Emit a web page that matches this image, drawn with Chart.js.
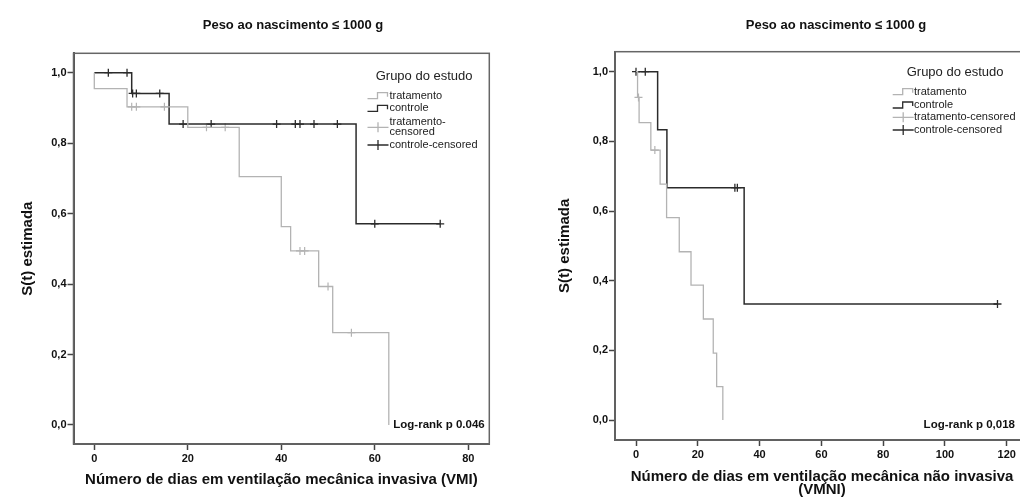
<!DOCTYPE html>
<html>
<head>
<meta charset="utf-8">
<script src="https://cdn.jsdelivr.net/npm/chart.js@4.4.1/dist/chart.umd.min.js"></script>
<style>
  html, body { margin: 0; padding: 0; background: #fff; overflow: hidden; width: 1020px; height: 497px; }
  #vmi { position: absolute; left: 0; top: 0; }
  #vmni { position: absolute; left: 540px; top: 0; }
</style>
</head>
<body>
<canvas id="vmi" width="586" height="497"></canvas>
<canvas id="vmni" width="592" height="497"></canvas>
<script>
'use strict';

var titulo = 'Peso ao nascimento \u2264 1000 g';
var tituloY = 'S(t) estimada';
var tituloVMI = 'Número de dias em ventilação mecânica invasiva (VMI)';
var tituloVMNI = ['Número de dias em ventilação mecânica não invasiva', '(VMNI)'];
var legendaTitulo = 'Grupo do estudo';
var legendaTextos = ['tratamento', 'controle', 'tratamento-censored', 'controle-censored'];
var logRankVMI = 'Log-rank p 0.046';
var logRankVMNI = 'Log-rank p 0,018';

var yTicks = [0, 0.2, 0.4, 0.6, 0.8, 1.0];
var vmiTicks = [0, 20, 40, 60, 80];
var vmniTicks = [0, 20, 40, 60, 80, 100, 120];

// VMI - curvas de Kaplan-Meier (dias, S(t))
var vmiTratDias = [0, 0, 7, 20, 31, 40, 42, 48, 51, 63];
var vmiTratS    = [1, 0.955, 0.903, 0.845, 0.705, 0.563, 0.494, 0.393, 0.262, 0];
var vmiTratCensDias = [8, 9, 15, 24, 28, 44, 45, 50, 55];
var vmiTratCensS    = [0.903, 0.903, 0.903, 0.845, 0.845, 0.494, 0.494, 0.393, 0.262];
var vmiContDias = [0, 8, 16, 56, 74];
var vmiContS    = [1, 0.941, 0.854, 0.571, 0.571];
var vmiContCensDias = [3, 7, 8.2, 9, 14, 19, 25, 39, 43, 44, 47, 52, 60, 74];
var vmiContCensS    = [1, 1, 0.941, 0.941, 0.941, 0.854, 0.854, 0.854, 0.854, 0.854, 0.854, 0.854, 0.571, 0.571];

// VMNI
var vmniTratDias = [0, 0.5, 1, 4.8, 7.8, 9.9, 14, 17.8, 21.8, 25, 26.1, 28.1];
var vmniTratS    = [1, 0.926, 0.854, 0.775, 0.677, 0.581, 0.483, 0.387, 0.290, 0.192, 0.096, 0];
var vmniTratCensDias = [0.8, 6.1];
var vmniTratCensS    = [0.926, 0.775];
var vmniContDias = [0, 7, 10, 35, 117];
var vmniContS    = [1, 0.833, 0.667, 0.333, 0.333];
var vmniContCensDias = [0, 3, 32, 32.8, 117];
var vmniContCensS    = [1, 1, 0.667, 0.667, 0.333];

var corTrat = '#b3b3b3';
var corCont = '#2b2b2b';
var fonte = '"Liberation Sans", Arial, sans-serif';

function pontos(xs, ys) {
  return xs.map(function (x, i) { return { x: x, y: ys[i] }; });
}

function datasets(tD, tS, tcD, tcS, cD, cS, ccD, ccS) {
  return [
    { label: legendaTextos[0], data: pontos(tD, tS), stepped: true, borderColor: corTrat, borderWidth: 1.3, pointRadius: 0, fill: false },
    { label: legendaTextos[1], data: pontos(cD, cS), stepped: true, borderColor: corCont, borderWidth: 1.5, pointRadius: 0, fill: false },
    { label: legendaTextos[2], data: pontos(tcD, tcS), showLine: false, pointStyle: 'cross', pointRadius: 4, borderColor: corTrat, borderWidth: 1.2 },
    { label: legendaTextos[3], data: pontos(ccD, ccS), showLine: false, pointStyle: 'cross', pointRadius: 4, borderColor: corCont, borderWidth: 1.3 }
  ];
}

// moldura, legenda SPSS e texto do log-rank
var legendaKM = {
  id: 'legendaKM',
  beforeDatasetsDraw: function (chart) {
    var a = chart.chartArea, ctx = chart.ctx;
    ctx.save();
    ctx.strokeStyle = '#666';
    ctx.lineWidth = 1.5;
    ctx.strokeRect(a.left, a.top, a.right - a.left, a.bottom - a.top);
    ctx.restore();
  },
  afterDraw: function (chart, args, o) {
    var ctx = chart.ctx;
    ctx.save();
    ctx.textBaseline = 'middle';
    ctx.textAlign = 'left';
    ctx.fillStyle = '#222';
    ctx.font = '13px ' + fonte;
    ctx.fillText(legendaTitulo, o.tituloX, o.tituloY);
    ctx.font = '11px ' + fonte;
    legendaTextos.forEach(function (txt, i) {
      var y = o.linhas[i], x0 = o.simboloX;
      ctx.strokeStyle = i % 2 === 0 ? corTrat : corCont;
      ctx.lineWidth = 1.3;
      ctx.beginPath();
      if (i >= 2) {
        ctx.moveTo(x0, y); ctx.lineTo(x0 + 21, y);
        ctx.moveTo(x0 + 10.5, y - 5); ctx.lineTo(x0 + 10.5, y + 5);
      } else {
        ctx.moveTo(x0, y + 3); ctx.lineTo(x0 + 10, y + 3); ctx.lineTo(x0 + 10, y - 3);
        ctx.lineTo(x0 + 20, y - 3); ctx.lineTo(x0 + 20, y + 1);
      }
      ctx.stroke();
      if (o.quebrar && i === 2) {
        ctx.fillText('tratamento-', o.textoX, y - 5);
        ctx.fillText('censored', o.textoX, y + 5);
      } else {
        ctx.fillText(txt, o.textoX, y);
      }
    });
    ctx.font = 'bold 11.5px ' + fonte;
    ctx.fillStyle = '#111';
    ctx.textAlign = o.logAlign;
    ctx.fillText(o.logRank, o.logX, o.logY);
    ctx.restore();
  }
};

function eixoX(ticks, min, max, altura, texto, lh, pb) {
  return {
    type: 'linear', min: min, max: max,
    afterBuildTicks: function (s) { s.ticks = ticks.map(function (v) { return { value: v }; }); },
    afterFit: function (s) { s.height = altura; },
    grid: { display: true, drawOnChartArea: false, drawTicks: true, tickLength: 6, tickColor: '#444', tickWidth: 1.5 },
    border: { display: true, color: '#555', width: 2 },
    ticks: { autoSkip: false, maxRotation: 0, padding: 2, color: '#111', font: { family: fonte, size: 11, weight: 'bold' } },
    title: { display: true, text: texto, color: '#111', font: { family: fonte, size: 15, weight: 'bold', lineHeight: lh }, padding: { top: 0, bottom: pb } }
  };
}

function eixoY(min, max, largura, pt) {
  return {
    min: min, max: max,
    afterBuildTicks: function (s) { s.ticks = yTicks.map(function (v) { return { value: v }; }); },
    afterFit: function (s) { s.width = largura; },
    grid: { display: true, drawOnChartArea: false, drawTicks: true, tickLength: 6, tickColor: '#444', tickWidth: 1.5 },
    border: { display: true, color: '#555', width: 2 },
    ticks: {
      autoSkip: false, padding: 1, color: '#111', font: { family: fonte, size: 11, weight: 'bold' },
      callback: function (v) { return v.toFixed(1).replace('.', ','); }
    },
    title: { display: true, text: tituloY, color: '#111', font: { family: fonte, size: 15, weight: 'bold', lineHeight: 1.2 }, padding: { top: pt, bottom: 0 } }
  };
}

// eixo vazio a direita, so para reservar espaco sem deslocar o titulo
function espacoDir(largura) {
  return {
    position: 'right', min: 0, max: 1,
    afterFit: function (s) { s.width = largura; },
    grid: { display: false }, border: { display: false }, ticks: { display: false }
  };
}

function opcoes(cfg) {
  return {
    responsive: false,
    animation: false,
    layout: { padding: 0 },
    plugins: {
      legend: { display: false },
      tooltip: { enabled: false },
      title: {
        display: true, text: titulo, color: '#111',
        font: { family: fonte, size: 13, weight: 'bold', lineHeight: 1.2 },
        padding: { top: 17.2, bottom: cfg.tituloPb }
      },
      legendaKM: cfg.legenda
    },
    scales: { x: cfg.x, y: cfg.y, dir: espacoDir(cfg.padDir) }
  };
}

new Chart(document.getElementById('vmi'), {
  type: 'line',
  data: { datasets: datasets(vmiTratDias, vmiTratS, vmiTratCensDias, vmiTratCensS, vmiContDias, vmiContS, vmiContCensDias, vmiContCensS) },
  options: opcoes({
    padDir: 96.7,
    tituloPb: 20.5,
    x: eixoX(vmiTicks, -4.45, 84.5, 53, tituloVMI, 1.2, 8),
    y: eixoY(-0.054, 1.055, 73.5, 19),
    legenda: {
      tituloX: 375.7, tituloY: 76,
      simboloX: 367.5, textoX: 389.5,
      linhas: [95.7, 108.3, 127.3, 145], quebrar: true,
      logRank: logRankVMI, logX: 393.3, logY: 425, logAlign: 'left'
    }
  }),
  plugins: [legendaKM]
});

new Chart(document.getElementById('vmni'), {
  type: 'line',
  data: { datasets: datasets(vmniTratDias, vmniTratS, vmniTratCensDias, vmniTratCensS, vmniContDias, vmniContS, vmniContCensDias, vmniContCensS) },
  options: opcoes({
    padDir: 103,
    tituloPb: 18.9,
    x: eixoX(vmniTicks, -6.8, 127.2, 57, tituloVMNI, 0.913, 0),
    y: eixoY(-0.0574, 1.0574, 75, 16),
    legenda: {
      tituloX: 366.7, tituloY: 72,
      simboloX: 352.7, textoX: 374,
      linhas: [91.7, 105, 117.3, 130], quebrar: false,
      logRank: logRankVMNI, logX: 475, logY: 425, logAlign: 'right'
    }
  }),
  plugins: [legendaKM]
});
</script>
</body>
</html>
